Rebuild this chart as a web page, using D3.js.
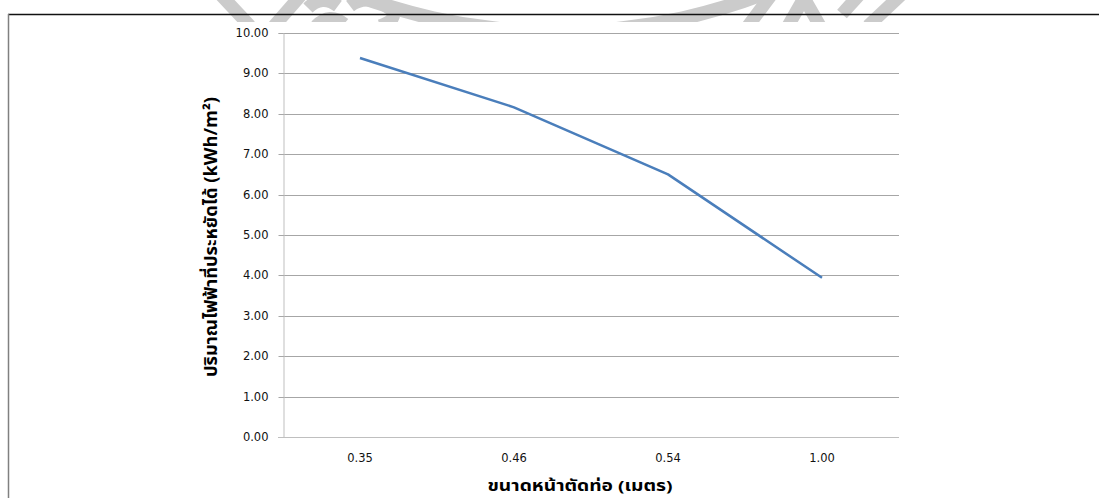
<!DOCTYPE html>
<html>
<head>
<meta charset="utf-8">
<script src="https://cdn.jsdelivr.net/npm/d3@7"></script>
<style>
  html, body { margin: 0; padding: 0; background: #fff; }
  svg { display: block; }
  .tick text { font-family: "DejaVu Sans", Tahoma, sans-serif; font-size: 11.5px; fill: #111; }
  .title { font-family: Tahoma, "Noto Sans Thai", "Noto Sans", "DejaVu Sans", sans-serif; font-weight: bold; font-size: 17px; fill: #000; }
</style>
</head>
<body>
<svg id="chart" width="1099" height="498"></svg>
<script>
// Pipe cross-section sizes (m) and electricity saved (kWh/m²)
const categories = ["0.35", "0.46", "0.54", "1.00"];
const savings = [9.38, 8.16, 6.50, 3.94];
const yTicks = [0, 1, 2, 3, 4, 5, 6, 7, 8, 9, 10];
const xTitle = "ขนาดหน้าตัดท่อ (เมตร)";
const yTitle = "ปริมาณไฟฟ้าที่ประหยัดได้ (kWh/m²)";

const svg = d3.select("#chart");
const W = 1099, H = 498;
const plot = { left: 283, right: 899, top: 33, bottom: 437 };

// faint emblem strokes along the top edge, cut off where the page body starts
svg.append("defs").append("clipPath").attr("id", "topband")
  .append("rect").attr("x", 0).attr("y", -20).attr("width", W).attr("height", 42);
const mark = svg.append("g")
  .attr("clip-path", "url(#topband)")
  .attr("fill", "none")
  .attr("stroke", "#cbcbcb")
  .attr("stroke-width", 13);
const markPaths = [
  "M220,-6 L250,26", "M302,-6 L274,26",
  "M308,8 Q322,-6 338,6", "M316,26 Q330,12 344,24",
  "M350,6 Q368,-8 392,10 Q398,20 380,26",
  "M860,-6 L842,14",
  "M748,26 L772,-6", "M788,26 L804,-2 L820,26",
  "M868,26 L902,-6"
];
mark.selectAll("path.s").data(markPaths).join("path").attr("class", "s").attr("d", d => d);
// ring of the emblem
mark.append("path")
  .attr("d", d3.arc()({ innerRadius: 565, outerRadius: 579, startAngle: Math.PI * 0.72, endAngle: Math.PI * 1.28 }))
  .attr("transform", "translate(558,-540)")
  .attr("fill", "#cbcbcb").attr("stroke", "none");

// frame lines
svg.append("line").attr("x1", 8).attr("x2", W).attr("y1", 14.5).attr("y2", 14.5)
  .attr("stroke", "#111").attr("stroke-width", 1.5);
svg.append("line").attr("x1", 8.5).attr("x2", 8.5).attr("y1", 14).attr("y2", H)
  .attr("stroke", "#808080").attr("stroke-width", 1.5);

const x = d3.scaleBand().domain(categories).range([plot.left, plot.right]);
const y = d3.scaleLinear().domain([0, 10]).range([plot.bottom, plot.top]);

// horizontal gridlines
svg.append("g")
  .selectAll("line")
  .data(yTicks.filter(d => d > 0))
  .join("line")
  .attr("x1", plot.left).attr("x2", plot.right)
  .attr("y1", d => Math.round(y(d)) + 0.5).attr("y2", d => Math.round(y(d)) + 0.5)
  .attr("stroke", "#a6a6a6").attr("stroke-width", 1);

// y axis
const yAxis = svg.append("g")
  .attr("transform", `translate(${plot.left + 0.5},0)`)
  .call(d3.axisLeft(y).tickValues(yTicks).tickFormat(d3.format(".2f")).tickSize(5).tickPadding(10));
yAxis.select(".domain").attr("stroke", "#bfbfbf");
yAxis.selectAll(".tick line").attr("stroke", "#a6a6a6");
yAxis.selectAll(".tick").attr("transform", d => `translate(0,${Math.round(y(d)) + 0.5})`);

// x axis
const xAxis = svg.append("g")
  .attr("transform", `translate(0,${plot.bottom + 0.5})`)
  .call(d3.axisBottom(x).tickSize(0).tickPadding(16));
xAxis.select(".domain").attr("stroke", "#bfbfbf").attr("d", `M${plot.left - 5},0H${plot.right}`);

// data line
const line = d3.line()
  .x((d, i) => x(categories[i]) + x.bandwidth() / 2)
  .y(d => y(d));
svg.append("path")
  .datum(savings)
  .attr("d", line)
  .attr("fill", "none")
  .attr("stroke", "#4a7ebb")
  .attr("stroke-width", 2.5)
  .attr("stroke-linejoin", "round");

// axis titles
svg.append("text").attr("class", "title")
  .attr("x", 580).attr("y", 491)
  .attr("text-anchor", "middle")
  .style("font-size", "15px")
  .attr("textLength", 185).attr("lengthAdjust", "spacingAndGlyphs")
  .text(xTitle);
svg.append("text").attr("class", "title")
  .attr("transform", `translate(217,237) rotate(-90)`)
  .attr("text-anchor", "middle")
  .attr("textLength", 280).attr("lengthAdjust", "spacingAndGlyphs")
  .text(yTitle);
</script>
</body>
</html>
